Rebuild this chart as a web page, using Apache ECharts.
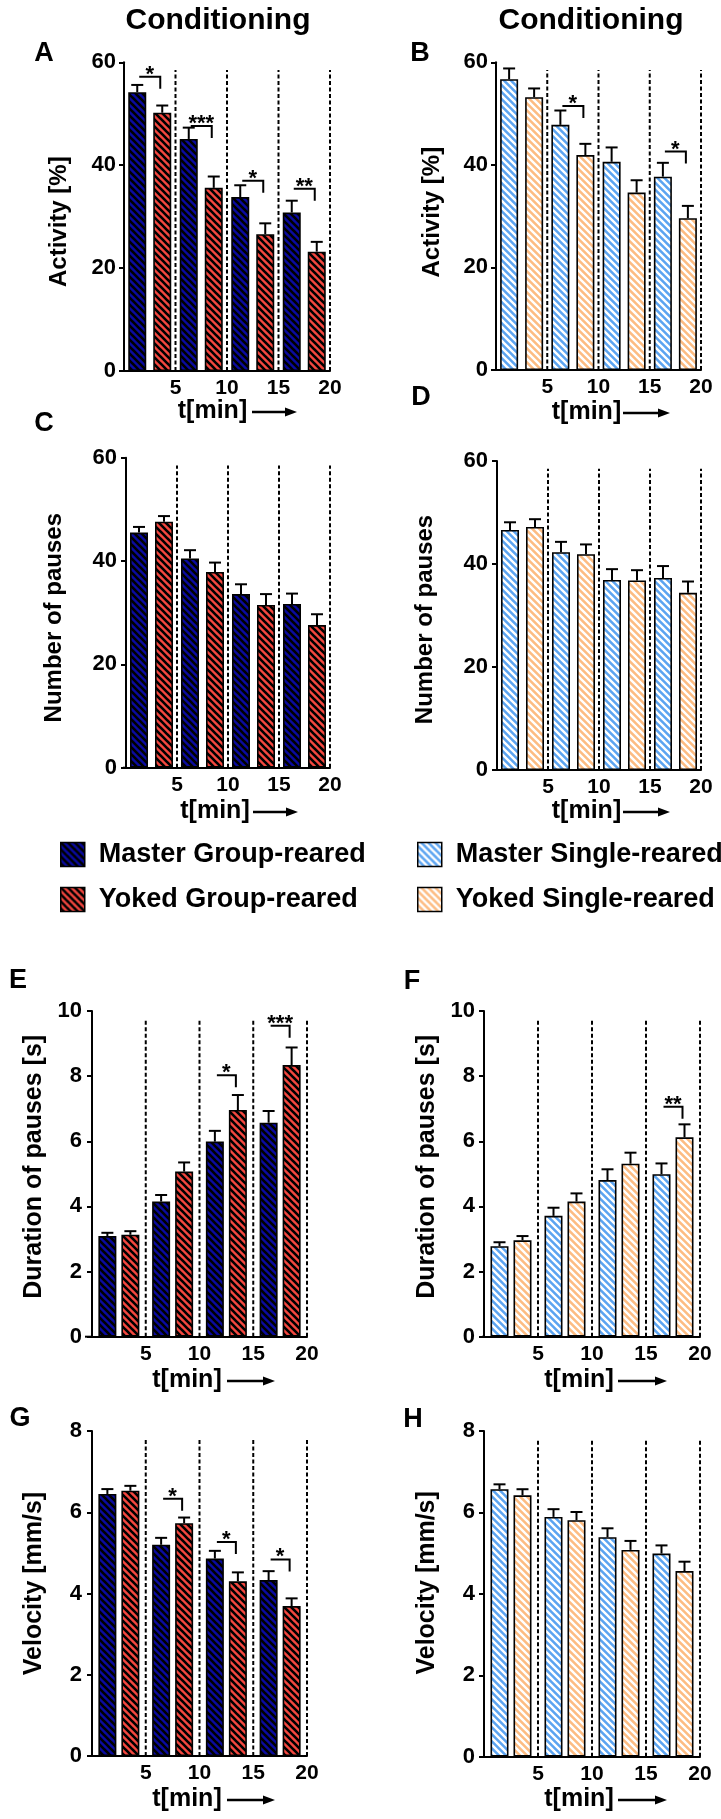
<!DOCTYPE html>
<html>
<head>
<meta charset="utf-8">
<script src="https://cdn.jsdelivr.net/npm/echarts@6/dist/echarts.min.js"></script>
<style>html,body{margin:0;padding:0;background:#fff}#c{width:721px;height:1819px}</style>
</head>
<body>
<div id="c"></div>
<script>
// ---------------- DATA ----------------
const binEdges = [5, 10, 15, 20];            // 5-min bin boundaries (dashed lines)
const binCenters = [2.5, 7.5, 12.5, 17.5];   // bin midpoints
const xTickLabels = ['5', '10', '15', '20'];

const groupNames = ['Master Group-reared', 'Yoked Group-reared'];
const singleNames = ['Master Single-reared', 'Yoked Single-reared'];

const activityTicks = [0, 20, 40, 60];
const pausesTicks = [0, 20, 40, 60];
const durationTicks = [0, 2, 4, 6, 8, 10];
const velocityTicks = [0, 2, 4, 6, 8];

// A - Activity, group-reared
const actGroupMaster = [54.2, 45.1, 33.8, 30.8];
const actGroupMasterSem = [1.4, 2.2, 2.3, 2.3];
const actGroupYoked = [50.2, 35.6, 26.6, 23.2];
const actGroupYokedSem = [1.4, 2.2, 2.1, 1.9];
// B - Activity, single-reared
const actSingleMaster = [56.7, 47.8, 40.6, 37.7];
const actSingleMasterSem = [2.1, 2.8, 2.8, 2.7];
const actSingleYoked = [53.2, 41.9, 34.6, 29.6];
const actSingleYokedSem = [1.7, 2.2, 2.4, 2.4];
// C - Number of pauses, group-reared
const pauGroupMaster = [45.5, 40.5, 33.6, 31.7];
const pauGroupMasterSem = [1.1, 1.6, 1.9, 2.0];
const pauGroupYoked = [47.6, 37.9, 31.5, 27.6];
const pauGroupYokedSem = [1.1, 1.8, 2.1, 2.1];
// D - Number of pauses, single-reared
const pauSingleMaster = [46.6, 42.3, 36.9, 37.3];
const pauSingleMasterSem = [1.5, 2.0, 2.1, 2.3];
const pauSingleYoked = [47.2, 41.9, 36.8, 34.4];
const pauSingleYokedSem = [1.5, 1.9, 2.0, 2.2];
// E - Duration of pauses, group-reared
const durGroupMaster = [3.09, 4.15, 5.99, 6.57];
const durGroupMasterSem = [0.10, 0.20, 0.33, 0.36];
const durGroupYoked = [3.13, 5.07, 6.96, 8.34];
const durGroupYokedSem = [0.11, 0.28, 0.46, 0.54];
// F - Duration of pauses, single-reared
const durSingleMaster = [2.78, 3.71, 4.81, 4.99];
const durSingleMasterSem = [0.12, 0.25, 0.33, 0.33];
const durSingleYoked = [2.96, 4.15, 5.31, 6.12];
const durSingleYokedSem = [0.13, 0.25, 0.34, 0.40];
// G - Velocity, group-reared
const velGroupMaster = [6.45, 5.20, 4.86, 4.33];
const velGroupMasterSem = [0.12, 0.17, 0.19, 0.22];
const velGroupYoked = [6.53, 5.73, 4.30, 3.69];
const velGroupYokedSem = [0.12, 0.14, 0.22, 0.19];
// H - Velocity, single-reared
const velSingleMaster = [6.57, 5.89, 5.39, 4.99];
const velSingleMasterSem = [0.12, 0.19, 0.22, 0.20];
const velSingleYoked = [6.42, 5.81, 5.08, 4.56];
const velSingleYokedSem = [0.15, 0.20, 0.22, 0.23];

// significance brackets: [bin index, bracket level, label]
const sigA = [[0, 57.2, '*'], [1, 47.6, '***'], [2, 37.0, '*'], [3, 35.4, '**']];
const sigB = [[1, 51.5, '*'], [3, 42.6, '*']];
const sigC = [];
const sigD = [];
const sigE = [[2, 8.03, '*'], [3, 9.55, '***']];
const sigF = [[3, 7.06, '**']];
const sigG = [[1, 6.33, '*'], [2, 5.27, '*'], [3, 4.84, '*']];
const sigH = [];

// ---------------- STYLE ----------------
const FONT = '"Liberation Sans", Arial, Helvetica, sans-serif';
const C_MG = '#0a0aa0', C_YG = '#f4473f', C_MS = '#5ca4f1', C_YS = '#fdbc82';

function hatch(bg, fg, lw) {
  const s = 7;
  const c = document.createElement('canvas');
  c.width = s; c.height = s;
  const g = c.getContext('2d');
  g.fillStyle = bg; g.fillRect(0, 0, s, s);
  g.strokeStyle = fg; g.lineWidth = lw; g.lineCap = 'square';
  g.beginPath();
  for (const o of [-s, 0, s]) { g.moveTo(o, 0); g.lineTo(o + s, s); }
  g.stroke();
  return { image: c, repeat: 'repeat' };
}
const patMG = hatch(C_MG, '#000', 2.6);
const patYG = hatch(C_YG, '#000', 2.6);
const patMS = hatch(C_MS, '#fff', 2.4);
const patYS = hatch(C_YS, '#fff', 2.4);

const BAR_W = 18;

const panels = [
  { grid: {left: 124, top: 62.3, width: 206, height: 308.7}, ticks: activityTicks, yName: 'Activity [%]', nameSize: 24, nameGap: 53, nameShift: 5, lm: 8, yOff: 0, gap: 7,
    names: groupNames, fills: [patMG, patYG], m: actGroupMaster, ms: actGroupMasterSem, y: actGroupYoked, ys: actGroupYokedSem, sig: sigA },
  { grid: {left: 496, top: 62.3, width: 205, height: 307.7}, ticks: activityTicks, yName: 'Activity [%]', nameSize: 24, nameGap: 52, nameShift: -4, lm: 8, yOff: 0, gap: 7,
    names: singleNames, fills: [patMS, patYS], m: actSingleMaster, ms: actSingleMasterSem, y: actSingleYoked, ys: actSingleYokedSem, sig: sigB },
  { grid: {left: 126, top: 457.7, width: 204, height: 310}, ticks: pausesTicks, yName: 'Number of pauses', nameSize: 24, nameGap: 58, nameShift: 5, lm: 7, yOff: 2, gap: 7,
    names: groupNames, fills: [patMG, patYG], m: pauGroupMaster, ms: pauGroupMasterSem, y: pauGroupYoked, ys: pauGroupYokedSem, sig: sigC },
  { grid: {left: 497, top: 461, width: 204, height: 309}, ticks: pausesTicks, yName: 'Number of pauses', nameSize: 24, nameGap: 59, nameShift: 4, lm: 8, yOff: 1, gap: 7,
    names: singleNames, fills: [patMS, patYS], m: pauSingleMaster, ms: pauSingleMasterSem, y: pauSingleYoked, ys: pauSingleYokedSem, sig: sigD },
  { grid: {left: 92, top: 1011, width: 215, height: 325.7}, ticks: durationTicks, yName: 'Duration of pauses [s]', nameSize: 25, nameGap: 39.5, nameShift: -7, lm: 4, yOff: 6, gap: 5,
    names: groupNames, fills: [patMG, patYG], m: durGroupMaster, ms: durGroupMasterSem, y: durGroupYoked, ys: durGroupYokedSem, sig: sigE },
  { grid: {left: 484, top: 1011, width: 216, height: 325.7}, ticks: durationTicks, yName: 'Duration of pauses [s]', nameSize: 25, nameGap: 43.5, nameShift: -7, lm: 8, yOff: 1, gap: 5,
    names: singleNames, fills: [patMS, patYS], m: durSingleMaster, ms: durSingleMasterSem, y: durSingleYoked, ys: durSingleYokedSem, sig: sigF },
  { grid: {left: 92, top: 1431, width: 215, height: 325}, ticks: velocityTicks, yName: 'Velocity [mm/s]', nameSize: 25, nameGap: 41.5, nameShift: -10, lm: 6, yOff: 4, gap: 5,
    names: groupNames, fills: [patMG, patYG], m: velGroupMaster, ms: velGroupMasterSem, y: velGroupYoked, ys: velGroupYokedSem, sig: sigG },
  { grid: {left: 484, top: 1431, width: 216, height: 325.7}, ticks: velocityTicks, yName: 'Velocity [mm/s]', nameSize: 25, nameGap: 44.5, nameShift: -11, lm: 9, yOff: 0, gap: 5,
    names: singleNames, fills: [patMS, patYS], m: velSingleMaster, ms: velSingleMasterSem, y: velSingleYoked, ys: velSingleYokedSem, sig: sigH }
];

function errRender(offset) {
  return function (params, api) {
    const x = api.value(0), v = api.value(1), e = api.value(2);
    const p0 = api.coord([x, v]), p1 = api.coord([x, v + e]);
    const cx = p0[0] + offset;
    return { type: 'group', children: [
      { type: 'line', shape: {x1: cx, y1: p0[1], x2: cx, y2: p1[1]}, style: {stroke: '#000', lineWidth: 2} },
      { type: 'line', shape: {x1: cx - 6, y1: p1[1], x2: cx + 6, y2: p1[1]}, style: {stroke: '#000', lineWidth: 2} }
    ]};
  };
}
function bracketRender(list, off) {
  return function (params, api) {
    const b = list[params.dataIndex];
    const p = api.coord([api.value(0), api.value(1)]);
    const xl = p[0] - off + 2, xr = p[0] + off - 2;
    return { type: 'group', children: [
      { type: 'polyline', shape: {points: [[xl, p[1]], [xr, p[1]], [xr, p[1] + 12]]}, style: {stroke: '#000', lineWidth: 2, fill: null} },
      { type: 'text', x: (xl + xr) / 2, y: p[1] + 9, style: {text: b[2], font: 'bold 22px ' + FONT, textAlign: 'center', textVerticalAlign: 'bottom', fill: '#000'} }
    ]};
  };
}
function dashRender(params, api) {
  const p0 = api.coord([api.value(0), 0]), p1 = api.coord([api.value(0), api.value(1)]);
  return { type: 'line', shape: {x1: p0[0], y1: p0[1], x2: p1[0], y2: p1[1]}, style: {stroke: '#000', lineWidth: 2, lineDash: [4, 2.5]} };
}

const grid = [], xAxis = [], yAxis = [], series = [];
panels.forEach((P, i) => {
  const yMax = P.ticks[P.ticks.length - 1];
  const yInt = P.ticks[1] - P.ticks[0];
  const off = (BAR_W + P.gap) / 2;
  grid.push(Object.assign({containLabel: false}, P.grid));
  xAxis.push({
    gridIndex: i, type: 'value', min: 0, max: binEdges[binEdges.length - 1], interval: binEdges[1] - binEdges[0],
    axisLine: {show: true, onZero: false, lineStyle: {color: '#000', width: 2}},
    axisTick: {show: false}, splitLine: {show: false},
    axisLabel: {show: true, margin: 7, color: '#000', fontSize: 21, fontWeight: 'bold', fontFamily: FONT,
      formatter: v => { const k = binEdges.indexOf(v); return k >= 0 ? xTickLabels[k] : ''; }}
  });
  const pad = P.nameShift >= 0 ? [0, 2 * P.nameShift, 0, 0] : [0, 0, 0, -2 * P.nameShift];
  yAxis.push({
    gridIndex: i, type: 'value', min: P.ticks[0], max: yMax, interval: yInt, offset: P.yOff,
    name: P.yName, nameLocation: 'middle', nameGap: P.nameGap,
    nameTextStyle: {fontSize: P.nameSize, fontWeight: 'bold', color: '#000', fontFamily: FONT, padding: pad},
    axisLine: {show: true, lineStyle: {color: '#000', width: 2}},
    axisTick: {show: true, length: 5, lineStyle: {color: '#000', width: 2}},
    splitLine: {show: false},
    axisLabel: {margin: P.lm, color: '#000', fontSize: 22, fontWeight: 'bold', fontFamily: FONT}
  });
  // dashed bin separators
  series.push({ type: 'custom', xAxisIndex: i, yAxisIndex: i, z: 1, silent: true,
    data: binEdges.map(e => [e, yMax * 0.975]), renderItem: dashRender });
  // bars
  [[P.m, 0], [P.y, 1]].forEach(([vals, k]) => {
    series.push({ type: 'bar', name: P.names[k], xAxisIndex: i, yAxisIndex: i, z: 2,
      barWidth: BAR_W, barGap: (P.gap / BAR_W * 100).toFixed(1) + '%',
      itemStyle: {color: P.fills[k], borderColor: '#000', borderWidth: 1.6},
      data: binCenters.map((c, j) => [c, vals[j]]) });
  });
  // error bars
  [[P.m, P.ms, -off], [P.y, P.ys, off]].forEach(([vals, sem, o]) => {
    series.push({ type: 'custom', xAxisIndex: i, yAxisIndex: i, z: 3, silent: true,
      data: binCenters.map((c, j) => [c, vals[j], sem[j]]), renderItem: errRender(o) });
  });
  // significance brackets
  if (P.sig.length) {
    series.push({ type: 'custom', xAxisIndex: i, yAxisIndex: i, z: 4, silent: true,
      data: P.sig.map(b => [binCenters[b[0]], b[1]]), renderItem: bracketRender(P.sig, off) });
  }
});

// ---------------- TEXT / DECOR ----------------
const graphic = [];
function txt(text, x, y, size, extra) {
  graphic.push(Object.assign({ type: 'text', x: x, y: y, z: 10,
    style: {text: text, font: 'bold ' + size + 'px ' + FONT, textAlign: 'center', textVerticalAlign: 'middle', fill: '#000'} }, extra || {}));
}
txt('Conditioning', 218, 21, 30);
txt('Conditioning', 591, 21, 30);
[['A', 44, 54], ['B', 420, 54], ['C', 44, 424], ['D', 421, 398], ['E', 18, 981], ['F', 412, 982], ['G', 20, 1419], ['H', 413, 1420]]
  .forEach(l => txt(l[0], l[1], l[2], 27));
function tmin(cx, y, x1, x2) {
  txt('t[min]', cx, y, 25);
  graphic.push({ type: 'line', z: 10, shape: {x1: x1, y1: y + 1, x2: x2 - 9, y2: y + 1}, style: {stroke: '#000', lineWidth: 2.5} });
  graphic.push({ type: 'polygon', z: 10, shape: {points: [[x2 - 12, y + 1 - 4.5], [x2, y + 1], [x2 - 12, y + 1 + 4.5]]}, style: {fill: '#000'} });
}
tmin(212.5, 411, 252, 297);
tmin(586.5, 412, 623, 670);
tmin(215, 811, 253, 298);
tmin(586.5, 811, 623, 670);
tmin(187, 1380, 227, 275);
tmin(579, 1380, 618, 667);
tmin(187, 1799, 227, 275);
tmin(579, 1799, 618, 667);
// extend x-axis lines to the offset y-axes
panels.forEach(P => {
  if (P.yOff > 0) {
    const y0 = P.grid.top + P.grid.height;
    graphic.push({ type: 'line', z: 10, shape: {x1: P.grid.left - P.yOff - 1, y1: y0, x2: P.grid.left + 1, y2: y0}, style: {stroke: '#000', lineWidth: 2} });
  }
});

const legendBase = {
  orient: 'vertical', itemWidth: 24, itemHeight: 24, itemGap: 18, selectedMode: false, icon: 'rect',
  itemStyle: {borderColor: '#000', borderWidth: 1.5},
  textStyle: {fontSize: 27, fontWeight: 'bold', color: '#000', fontFamily: FONT, padding: [0, 0, 0, 9]}
};

const chart = echarts.init(document.getElementById('c'), null, {renderer: 'canvas'});
chart.setOption({
  animation: false,
  backgroundColor: '#fff',
  grid: grid, xAxis: xAxis, yAxis: yAxis, series: series, graphic: graphic,
  legend: [
    Object.assign({}, legendBase, {data: groupNames, left: 55, top: 836}),
    Object.assign({}, legendBase, {data: singleNames, left: 412, top: 836})
  ]
});
</script>
</body>
</html>
